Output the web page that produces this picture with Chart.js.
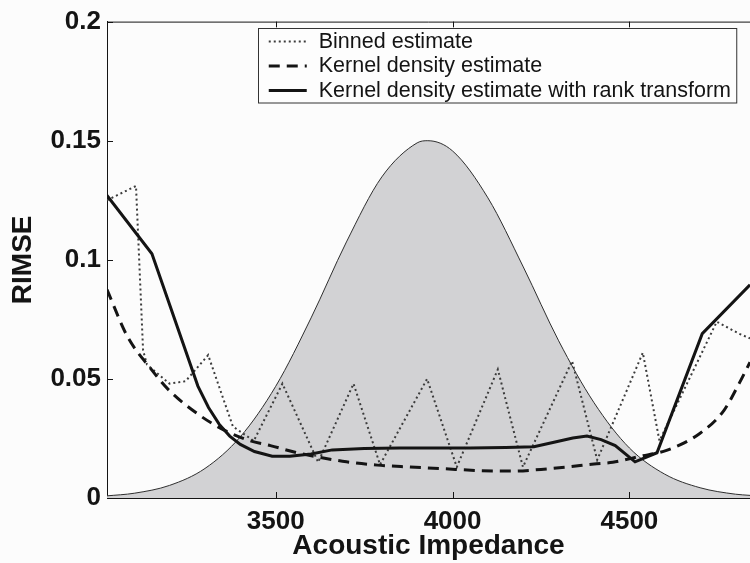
<!DOCTYPE html>
<html>
<head>
<meta charset="utf-8">
<script src="https://cdn.jsdelivr.net/npm/chart.js@4/dist/chart.umd.min.js"></script>
<style>
  html, body { margin: 0; padding: 0; background: #fcfcfc; }
  #wrap { width: 750px; height: 563px; position: relative; }
</style>
</head>
<body>
<div id="wrap"><canvas id="rimseChart"></canvas></div>
<script>
// axis ranges and ticks
const xMin = 3023;
const xMax = 4841;
const xTicks = [3500, 4000, 4500];
const yTicks = [0, 0.05, 0.1, 0.15, 0.2];
const yTickLabels = ['0', '0.05', '0.1', '0.15', '0.2'];

// gray background distribution
const priorX = [3023, 3100, 3200, 3300, 3400, 3500, 3600, 3700, 3800, 3900, 3930, 4000, 4100, 4200, 4300, 4400, 4500, 4600, 4700, 4800, 4841];
const priorY = [0.0009, 0.0020, 0.0053, 0.0124, 0.0257, 0.0469, 0.0756, 0.1075, 0.1348, 0.1491, 0.150, 0.1457, 0.126, 0.097, 0.066, 0.040, 0.021, 0.010, 0.0043, 0.0016, 0.0011];

// Binned estimate (dotted)
const binnedX = [3023, 3105, 3125, 3136, 3200, 3245, 3309, 3379, 3438, 3519, 3620, 3720, 3795, 3928, 4012, 4128, 4199, 4338, 4409, 4538, 4585, 4747, 4810, 4841];
const binnedY = [0.125, 0.131, 0.062, 0.056, 0.048, 0.049, 0.060, 0.030, 0.024, 0.048, 0.015, 0.048, 0.014, 0.050, 0.013, 0.054, 0.013, 0.0575, 0.016, 0.061, 0.024, 0.074, 0.069, 0.067];

// Kernel density estimate (dashed)
const kdeX = [3023, 3080, 3145, 3200, 3286, 3357, 3428, 3485, 3560, 3627, 3700, 3787, 3880, 3973, 4080, 4171, 4250, 4323, 4400, 4453, 4530, 4605, 4698, 4767, 4810, 4841];
const kdeY = [0.0875, 0.068, 0.0546, 0.045, 0.0346, 0.0283, 0.024, 0.022, 0.019, 0.017, 0.0152, 0.0138, 0.013, 0.0123, 0.0115, 0.0113, 0.012, 0.013, 0.0143, 0.015, 0.0175, 0.020, 0.027, 0.0367, 0.048, 0.057];

// Kernel density estimate with rank transform (solid)
const rankX = [3023, 3150, 3280, 3310, 3340, 3370, 3400, 3440, 3490, 3540, 3600, 3660, 3750, 3850, 3950, 4050, 4150, 4230, 4290, 4340, 4380, 4420, 4460, 4516, 4578, 4706, 4841];
const rankY = [0.127, 0.1025, 0.047, 0.038, 0.031, 0.026, 0.0225, 0.0195, 0.0175, 0.0175, 0.0185, 0.0202, 0.0208, 0.021, 0.021, 0.021, 0.0212, 0.0215, 0.0235, 0.0252, 0.026, 0.0245, 0.022, 0.0152, 0.019, 0.069, 0.0895];

const toPoints = (xs, ys) => xs.map((x, i) => ({ x: x, y: ys[i] }));

const ink = '#141414';
const tickFont = { family: '"Liberation Sans", Arial, sans-serif', size: 26, weight: 'bold' };
const titleFont = { family: '"Liberation Sans", Arial, sans-serif', size: 28, weight: 'bold' };

// MATLAB style frame: inward ticks and top border
const framePlugin = {
    id: 'frame',
    afterDraw(chart) {
        const ctx = chart.ctx;
        const a = chart.chartArea;
        const sx = chart.scales.x, sy = chart.scales.y;
        ctx.save();
        ctx.strokeStyle = ink;
        ctx.lineWidth = 1;
        ctx.beginPath();
        ctx.moveTo(a.left, a.top + 0.5);
        ctx.lineTo(a.right, a.top + 0.5);
        xTicks.forEach(v => {
            const px = Math.round(sx.getPixelForValue(v)) + 0.5;
            ctx.moveTo(px, a.top);
            ctx.lineTo(px, a.top + 6);
            ctx.moveTo(px, a.bottom);
            ctx.lineTo(px, a.bottom - 6);
        });
        yTicks.forEach(v => {
            const py = Math.round(sy.getPixelForValue(v)) + 0.5;
            ctx.moveTo(a.left, py);
            ctx.lineTo(a.left + 6, py);
        });
        ctx.stroke();
        ctx.restore();
    }
};

// boxed legend inside the plot, top right
const boxLegend = {
    id: 'boxLegend',
    afterDraw(chart) {
        const ctx = chart.ctx;
        const a = chart.chartArea;
        const items = chart.data.datasets.filter(d => d.label);
        ctx.save();
        ctx.font = '21.5px "Liberation Sans", Arial, sans-serif';
        const textW = Math.max(...items.map(d => ctx.measureText(d.label).width));
        const rowH = 24.5;
        const sample = 38;
        const boxW = 11 + sample + 12 + textW + 5;
        const boxH = rowH * items.length + 1;
        const left = a.right - 14 - boxW;
        const top = a.top + 6;
        ctx.fillStyle = '#fdfdfd';
        ctx.fillRect(left, top, boxW, boxH);
        ctx.strokeStyle = '#333';
        ctx.lineWidth = 1;
        ctx.strokeRect(Math.round(left) + 0.5, Math.round(top) + 0.5, boxW, boxH);
        items.forEach((d, i) => {
            const cy = top + 14 + i * rowH;
            ctx.strokeStyle = d.borderColor;
            ctx.lineWidth = d.borderWidth;
            ctx.setLineDash(d.borderDash || []);
            ctx.beginPath();
            ctx.moveTo(left + 11, cy);
            ctx.lineTo(left + 11 + sample, cy);
            ctx.stroke();
            ctx.setLineDash([]);
            ctx.fillStyle = ink;
            ctx.textBaseline = 'middle';
            ctx.fillText(d.label, left + 11 + sample + 12, cy);
        });
        ctx.restore();
    }
};

new Chart(document.getElementById('rimseChart'), {
    type: 'line',
    data: {
        datasets: [
            {
                label: 'Binned estimate',
                data: toPoints(binnedX, binnedY),
                borderColor: '#3c3c3c',
                borderWidth: 2,
                borderDash: [2, 3],
                pointRadius: 0,
                tension: 0,
                fill: false,
                order: 2
            },
            {
                label: 'Kernel density estimate',
                data: toPoints(kdeX, kdeY),
                borderColor: ink,
                borderWidth: 3,
                borderDash: [11, 7],
                pointRadius: 0,
                cubicInterpolationMode: 'monotone',
                fill: false,
                order: 1
            },
            {
                label: 'Kernel density estimate with rank transform',
                data: toPoints(rankX, rankY),
                borderColor: ink,
                borderWidth: 3,
                pointRadius: 0,
                tension: 0,
                fill: false,
                order: 0
            },
            {
                label: '',
                data: toPoints(priorX, priorY),
                borderColor: '#2e2e2e',
                borderWidth: 1,
                backgroundColor: '#d2d2d4',
                pointRadius: 0,
                cubicInterpolationMode: 'monotone',
                fill: 'origin',
                order: 10
            }
        ]
    },
    options: {
        responsive: true,
        maintainAspectRatio: false,
        devicePixelRatio: 1,
        animation: false,
        layout: { padding: { top: 17, right: 0, left: 0, bottom: 0 } },
        plugins: {
            legend: { display: false },
            tooltip: { enabled: false }
        },
        scales: {
            x: {
                type: 'linear',
                min: xMin,
                max: xMax,
                afterBuildTicks: scale => { scale.ticks = xTicks.map(v => ({ value: v })); },
                afterFit: scale => { scale.height = 65; },
                grid: { display: false, drawTicks: false },
                border: { display: true, color: ink, width: 1 },
                ticks: {
                    color: ink,
                    font: tickFont,
                    padding: 8,
                    maxRotation: 0,
                    autoSkip: false,
                    callback: v => String(v)
                },
                title: {
                    display: true,
                    text: 'Acoustic Impedance',
                    color: ink,
                    font: titleFont,
                    padding: { top: 0, bottom: 0 }
                }
            },
            y: {
                type: 'linear',
                min: 0,
                max: 0.2,
                afterBuildTicks: scale => { scale.ticks = yTicks.map(v => ({ value: v })); },
                afterFit: scale => { scale.width = 107; },
                grid: { display: false, drawTicks: false },
                border: { display: true, color: ink, width: 1 },
                ticks: {
                    color: ink,
                    font: tickFont,
                    padding: 6,
                    autoSkip: false,
                    callback: v => yTickLabels[yTicks.indexOf(v)]
                },
                title: {
                    display: true,
                    text: 'RIMSE',
                    color: ink,
                    font: titleFont,
                    padding: { top: 6, bottom: 0 }
                }
            }
        }
    },
    plugins: [framePlugin, boxLegend]
});
</script>
</body>
</html>
